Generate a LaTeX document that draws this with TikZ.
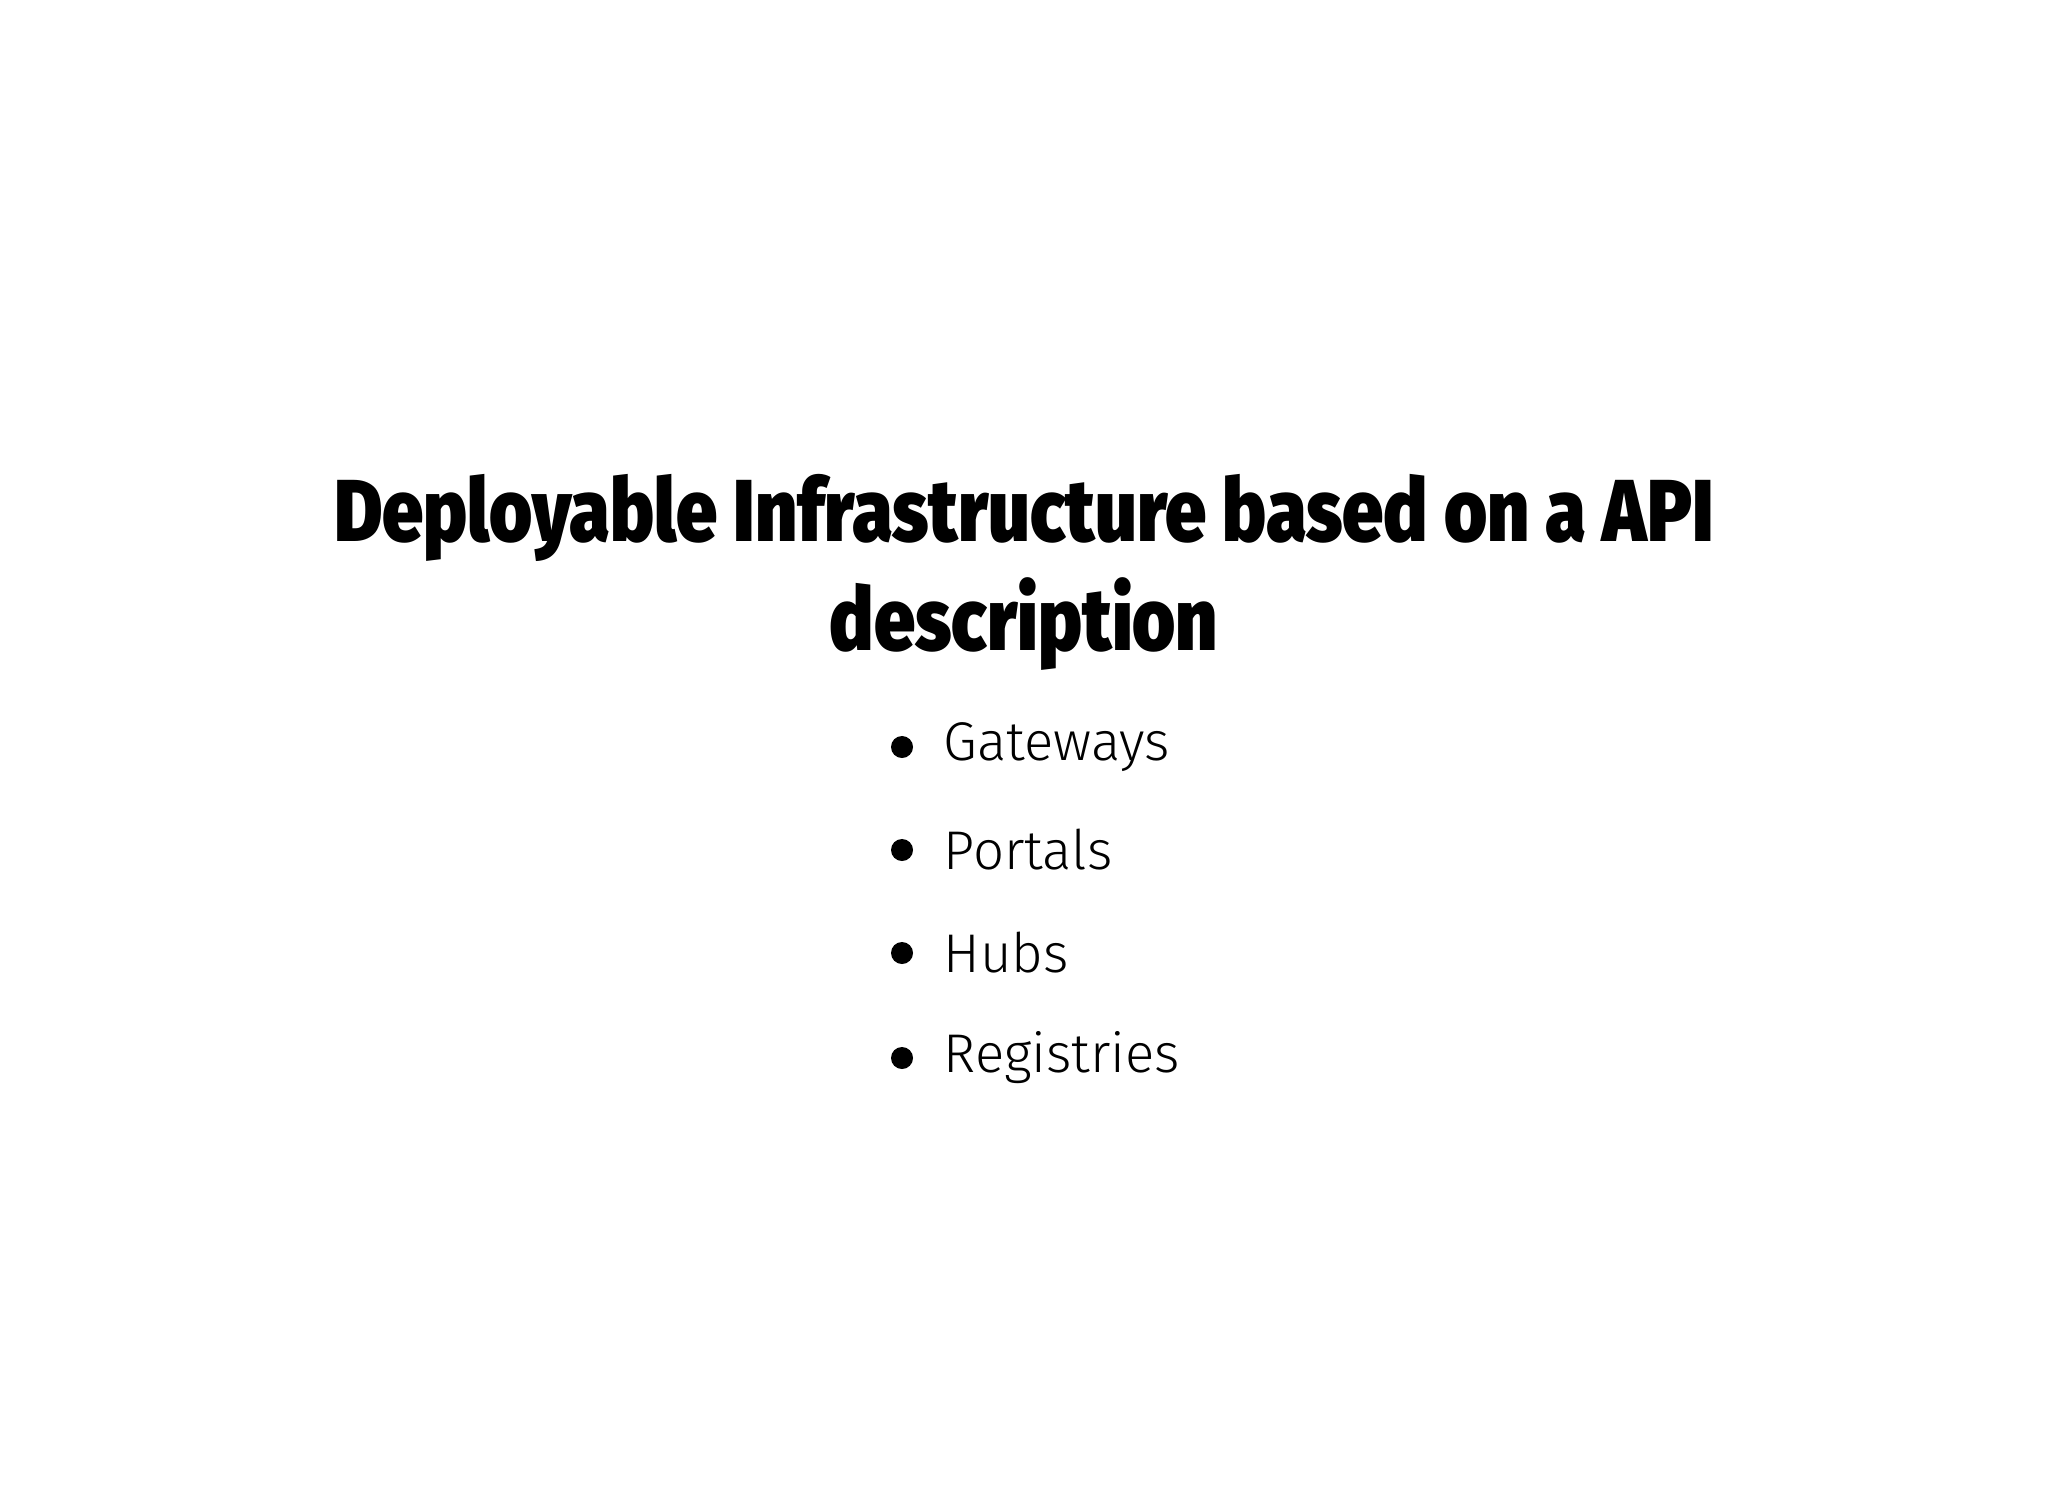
\documentclass[tikz,border=0pt]{standalone}
\usepackage{fontspec}
\setmainfont{Fira Sans}
\newfontfamily\titlefont{Fira Sans Black}
\newfontfamily\bulletfont{Fira Sans Light}
\begin{document}
\begin{tikzpicture}[x=0.01cm,y=-0.01cm,
  titlestyle/.style={font=\titlefont\fontsize{25}{30}\selectfont, inner sep=0, anchor=center},
  itemstyle/.style={font=\bulletfont\fontsize{15.5}{18}\selectfont, inner sep=0, anchor=west},
  dotstyle/.style={circle, fill=black, inner sep=0, minimum size=0.22cm}]
\useasboundingbox (0,0) rectangle (2048,1494);
\fill[white] (0,0) rectangle (2048,1494);
\node[titlestyle] (t1) at (1024,518) {\scalebox{0.84}[1]{Deployable Infrastructure based on a API}};
\node[titlestyle] (t2) at (1024,624) {\scalebox{0.84}[1]{description}};
\foreach \n/\y/\t in {a/747/Gateways, b/850/Portals, c/953/Hubs, d/1058/Registries}{
  \node[dotstyle] (d\n) at (902,\y) {};
  \node[itemstyle] (i\n) at (943,\y) {\t};
}
\end{tikzpicture}
\end{document}
